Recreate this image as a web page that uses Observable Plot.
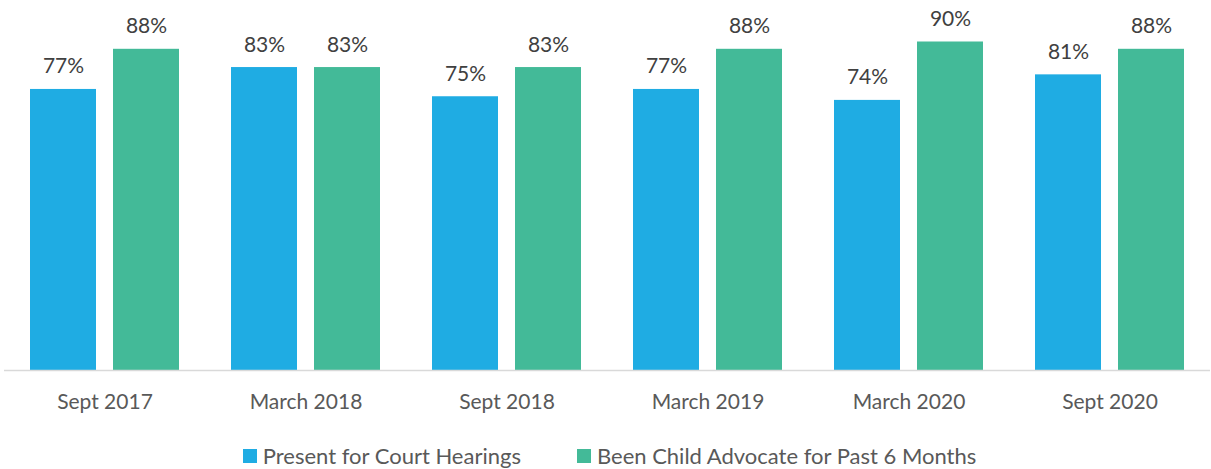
<!DOCTYPE html>
<html>
<head>
<meta charset="utf-8">
<script src="https://cdn.jsdelivr.net/npm/d3@7"></script>
<script src="https://cdn.jsdelivr.net/npm/@observablehq/plot@0.6"></script>
<style>
  body { margin: 0; background: #fff; font-family: Lato, "Open Sans", sans-serif; }
  #chart svg { display: block; }
  .legend { display: flex; justify-content: center; font-size: 22px; color: #595959; margin-top: 12px; padding-left: 8px; line-height: 24px; }
  .item { display: flex; align-items: center; margin: 0 28px; }
  .sw { width: 14px; height: 14px; margin-right: 6px; display: inline-block; }
</style>
</head>
<body>
<div id="chart"></div>
<div class="legend" id="legend"></div>
<script>
const categories = ["Sept 2017", "March 2018", "Sept 2018", "March 2019", "March 2020", "Sept 2020"];
const seriesNames = ["Present for Court Hearings", "Been Child Advocate for Past 6 Months"];
const presentValues = [77, 83, 75, 77, 74, 81];
const advocateValues = [88, 83, 83, 88, 90, 88];
const colors = ["#1FACE3", "#43BA98"];

const data = [];
categories.forEach((c, i) => {
  data.push({cat: c, series: seriesNames[0], value: presentValues[i]});
  data.push({cat: c, series: seriesNames[1], value: advocateValues[i]});
});

const chart = Plot.plot({
  width: 1211,
  height: 432,
  marginTop: 5,
  marginBottom: 62,
  marginLeft: 4,
  marginRight: 1,
  style: {fontFamily: "Lato, 'Open Sans', sans-serif", background: "#fff"},
  fx: {domain: categories, padding: 0, label: null},
  x: {domain: seriesNames, paddingInner: 0.205, paddingOuter: 0.313, axis: null},
  y: {domain: [0, 100], axis: null},
  color: {domain: seriesNames, range: colors},
  marks: [
    Plot.axisFx({anchor: "bottom", tickSize: 0, tickPadding: 24, fontSize: 21, color: "#595959", label: null}),
    Plot.barY(data, {fx: "cat", x: "series", y: "value", fill: "series"}),
    Plot.ruleY([0], {stroke: "#d9d9d9", strokeWidth: 1.5}),
    Plot.text(data, {fx: "cat", x: "series", y: "value", text: d => d.value + "%", lineAnchor: "bottom", dy: -16, fontSize: 21, fill: "#404040"})
  ]
});
document.getElementById("chart").appendChild(chart);

const legend = document.getElementById("legend");
seriesNames.forEach((s, i) => {
  const it = document.createElement("div");
  it.className = "item";
  it.innerHTML = `<span class="sw" style="background:${colors[i]}"></span><span>${s}</span>`;
  legend.appendChild(it);
});
</script>
</body>
</html>
